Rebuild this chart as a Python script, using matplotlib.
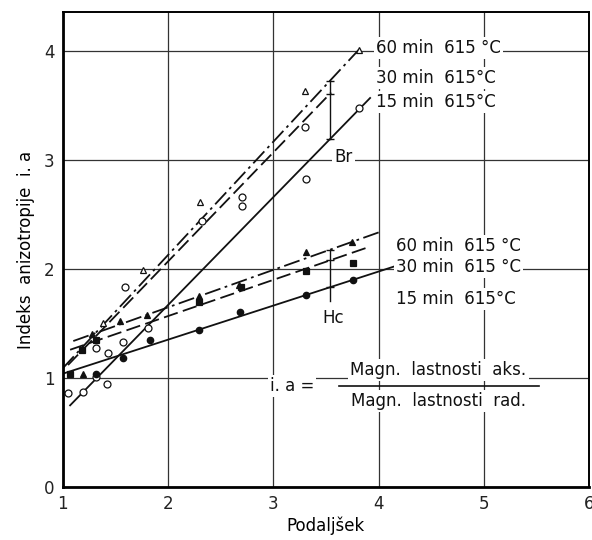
import numpy as np
import matplotlib
matplotlib.use("Agg")
import matplotlib.pyplot as plt

plt.rcParams["font.family"] = ["DejaVu Sans"]

# ── Br: fitted lines (x endpoints, y endpoints) ──
br_lines = {
    "60": ([1.00, 3.81], [1.09, 4.01]),
    "30": ([1.05, 3.55], [1.12, 3.62]),
    "15": ([1.07, 3.92], [0.75, 3.57]),
}
# ── Hc: fitted lines ──
hc_lines = {
    "60": ([1.10, 4.04], [1.34, 2.35]),
    "30": ([1.07, 3.90], [1.26, 2.20]),
    "15": ([1.00, 4.20], [1.04, 2.04]),
}

# Br measurement points (open markers)
br60_x = [1.38, 1.76, 2.30, 3.30, 3.81]
br60_y = [1.51, 1.99, 2.62, 3.63, 4.01]
br30_x = [1.32, 1.43, 1.59, 2.32, 2.70, 2.70, 3.30]
br30_y = [1.28, 1.23, 1.84, 2.44, 2.66, 2.58, 3.30]
br15_x = [1.05, 1.19, 1.32, 1.42, 1.57, 1.81, 3.31, 3.81]
br15_y = [0.86, 0.87, 1.01, 0.95, 1.33, 1.46, 2.83, 3.48]

# Hc measurement points (filled markers)
hc60_x = [1.19, 1.28, 1.54, 1.80, 2.29, 2.67, 3.31, 3.75]
hc60_y = [1.04, 1.40, 1.52, 1.58, 1.75, 1.85, 2.16, 2.25]
hc30_x = [1.07, 1.18, 1.32, 2.29, 2.69, 3.31, 3.76]
hc30_y = [1.04, 1.26, 1.35, 1.70, 1.84, 1.98, 2.06]
hc15_x = [1.32, 1.57, 1.83, 2.29, 2.68, 3.31, 3.76]
hc15_y = [1.04, 1.18, 1.35, 1.44, 1.61, 1.76, 1.90]

x_ticks = [1, 2, 3, 4, 5, 6]
y_ticks = [0, 1, 2, 3, 4]
x_mark = 3.54  # where the Br / Hc spread bars are drawn

styles = {"60": (0, (9, 2.5, 1.5, 2.5)), "30": (0, (8, 3)), "15": "-"}

fig = plt.figure(figsize=(5.92, 5.40), dpi=100)
ax = fig.add_axes([0.106, 0.098, 0.889, 0.880])
ax.set_xlim(1, 6)
ax.set_ylim(0, 4.36)

ax.set_xticks(x_ticks)
ax.set_yticks(y_ticks)
ax.tick_params(length=0, labelsize=12, pad=6, colors="#222222")
ax.grid(True, color="#333333", linewidth=0.9)
ax.set_axisbelow(True)
for side in ["left", "bottom"]:
    ax.spines[side].set_linewidth(2.0)
ax.spines["top"].set_linewidth(1.4)
ax.spines["right"].set_linewidth(1.4)

ax.set_xlabel("Podaljšek", fontsize=12, labelpad=2)
ax.set_ylabel("Indeks  anizotropije  i. a", fontsize=12, labelpad=6)

lk = dict(color="#111111", linewidth=1.3)
for key, (xs, ys) in br_lines.items():
    ax.plot(xs, ys, linestyle=styles[key], **lk)
for key, (xs, ys) in hc_lines.items():
    ax.plot(xs, ys, linestyle=styles[key], **lk)

mk = dict(linestyle="none", color="#111111", markersize=5, markeredgewidth=0.9)
ax.plot(br60_x, br60_y, marker="^", markerfacecolor="white", **mk)
ax.plot(br30_x, br30_y, marker="o", markerfacecolor="white", **mk)
ax.plot(br15_x, br15_y, marker="o", markerfacecolor="white", **mk)
ax.plot(hc60_x, hc60_y, marker="^", **mk)
ax.plot(hc30_x, hc30_y, marker="s", **mk)
ax.plot(hc15_x, hc15_y, marker="o", markersize=4.5, linestyle="none",
        color="#111111")

# spread bars at x_mark
br_vals = [np.interp(x_mark, *br_lines[k]) for k in ["15", "30", "60"]]
hc_vals = [np.interp(x_mark, *hc_lines[k]) for k in ["15", "30", "60"]]
ax.plot([x_mark, x_mark], [br_vals[0], br_vals[-1]], color="#111111", lw=1.0)
ax.plot([x_mark, x_mark], [hc_vals[0] - 0.13, hc_vals[-1]], color="#111111", lw=1.0)
ax.plot([x_mark] * 3, br_vals, linestyle="none", marker="_", markersize=6,
        color="#111111")
ax.plot([x_mark] * 3, hc_vals, linestyle="none", marker="_", markersize=6,
        color="#111111")

box = dict(facecolor="white", edgecolor="none", pad=1.5)
tk = dict(fontsize=12, color="#111111", va="center", ha="left", bbox=box)
ax.text(3.98, 4.03, "60 min  615 °C", **tk)
ax.text(3.98, 3.75, "30 min  615°C", **tk)
ax.text(3.98, 3.53, "15 min  615°C", **tk)
ax.text(3.58, 3.03, "Br", **tk)
ax.text(4.17, 2.21, "60 min  615 °C", **tk)
ax.text(4.17, 2.02, "30 min  615 °C", **tk)
ax.text(4.17, 1.73, "15 min  615°C", **tk)
ax.text(3.47, 1.55, "Hc", **tk)

ax.text(2.97, 0.93, "i. a =", **tk)
ax.text(4.57, 1.07, "Magn.  lastnosti  aks.", fontsize=12, ha="center",
        va="center", bbox=box, color="#111111")
ax.text(4.57, 0.79, "Magn.  lastnosti  rad.", fontsize=12, ha="center",
        va="center", bbox=box, color="#111111")
ax.plot([3.62, 5.52], [0.93, 0.93], color="#111111", lw=1.2)

fig.savefig("out.png", dpi=100)
